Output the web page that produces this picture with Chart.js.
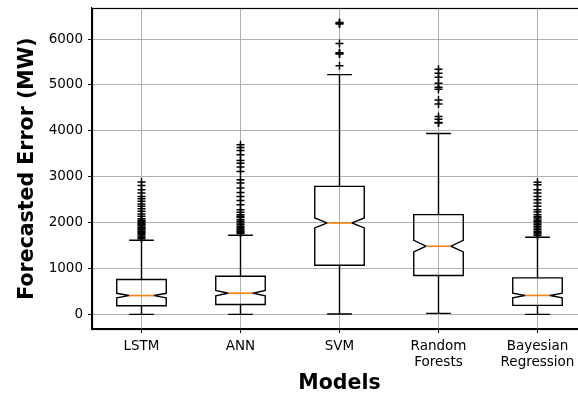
<!DOCTYPE html>
<html>
<head>
<meta charset="utf-8">
<script src="https://cdn.jsdelivr.net/npm/chart.js@4/dist/chart.umd.min.js"></script>
<style>
html,body{margin:0;padding:0;background:#fff;overflow:hidden;}
#wrap{width:578px;height:398px;overflow:hidden;position:relative;}
canvas{display:block;}
</style>
</head>
<body>
<div id="wrap"><canvas id="c" width="640" height="398"></canvas></div>
<script>
// ---- data ----
const categories = ['LSTM', 'ANN', 'SVM', 'Random Forests', 'Bayesian Regression'];
const xTickLabels = [['LSTM'], ['ANN'], ['SVM'], ['Random', 'Forests'], ['Bayesian', 'Regression']];
const q1Values      = [190, 215, 1072, 848, 196];
const medianValues  = [410, 462, 1993, 1486, 413];
const q3Values      = [760, 832, 2790, 2174, 797];
const notchLow      = [362, 406, 1884, 1363, 362];
const notchHigh     = [460, 520, 2103, 1616, 465];
const whiskerLow    = [0, 0, 8, 22, 0];
const whiskerHigh   = [1615, 1725, 5225, 3942, 1681];
const outliersLSTM = [2884, 2812, 2717, 2645, 2572, 2522, 2464, 2406, 2355, 2304, 2246, 2188, 2138, 2087, 2050, 2029, 2000, 1980, 1957, 1930, 1900, 1884, 1860, 1840, 1812, 1790, 1770, 1739, 1710, 1681, 1650];
const outliersANN = [3700, 3640, 3572, 3478, 3355, 3297, 3210, 3116, 2935, 2862, 2754, 2659, 2572, 2485, 2391, 2283, 2224, 2174, 2140, 2110, 2065, 2030, 1993, 1960, 1920, 1890, 1862, 1840, 1812, 1790, 1765];
const outliersSVM = [6360, 6345, 6330, 5906, 5700, 5688, 5675, 5420];
const outliersRF = [5341, 5254, 5167, 5036, 4949, 4906, 4674, 4587, 4312, 4254, 4181, 4170];
const outliersBR = [2880, 2826, 2717, 2645, 2572, 2500, 2428, 2355, 2283, 2230, 2174, 2130, 2101, 2060, 2029, 1990, 1957, 1920, 1884, 1850, 1812, 1780, 1750, 1720];
const yTickValues = [0, 1000, 2000, 3000, 4000, 5000, 6000];

const outlierSets = [outliersLSTM, outliersANN, outliersSVM, outliersRF, outliersBR];
const outlierPoints = [];
outlierSets.forEach((arr, i) => arr.forEach(v => outlierPoints.push({x: i + 1, y: v})));

const BOX_W = 0.5;
const FONT = '"DejaVu Sans", sans-serif';

const boxPlugin = {
  id: 'boxes',
  afterDatasetsDraw(chart) {
    const {ctx, scales: {x, y}, chartArea} = chart;
    ctx.save();
    ctx.lineWidth = 1.4;
    ctx.strokeStyle = '#000';
    ctx.lineJoin = 'miter';
    for (let i = 0; i < categories.length; i++) {
      const pos = i + 1;
      const L = x.getPixelForValue(pos - BOX_W / 2);
      const R = x.getPixelForValue(pos + BOX_W / 2);
      const mL = x.getPixelForValue(pos - BOX_W / 4);
      const mR = x.getPixelForValue(pos + BOX_W / 4);
      const cx = x.getPixelForValue(pos);
      const pq1 = y.getPixelForValue(q1Values[i]);
      const pq3 = y.getPixelForValue(q3Values[i]);
      const pm = y.getPixelForValue(medianValues[i]);
      const pnl = y.getPixelForValue(notchLow[i]);
      const pnh = y.getPixelForValue(notchHigh[i]);
      const pwl = y.getPixelForValue(whiskerLow[i]);
      const pwh = y.getPixelForValue(whiskerHigh[i]);
      ctx.beginPath();
      ctx.moveTo(L, pq1);
      ctx.lineTo(R, pq1);
      ctx.lineTo(R, pnl);
      ctx.lineTo(mR, pm);
      ctx.lineTo(R, pnh);
      ctx.lineTo(R, pq3);
      ctx.lineTo(L, pq3);
      ctx.lineTo(L, pnh);
      ctx.lineTo(mL, pm);
      ctx.lineTo(L, pnl);
      ctx.closePath();
      ctx.stroke();
      ctx.beginPath();
      ctx.moveTo(cx, pq1); ctx.lineTo(cx, pwl);
      ctx.moveTo(cx, pq3); ctx.lineTo(cx, pwh);
      ctx.moveTo(mL, pwl); ctx.lineTo(mR, pwl);
      ctx.moveTo(mL, pwh); ctx.lineTo(mR, pwh);
      ctx.stroke();
      ctx.beginPath();
      ctx.strokeStyle = '#ff7f0e';
      ctx.lineWidth = 1.6;
      ctx.moveTo(mL, pm); ctx.lineTo(mR, pm);
      ctx.stroke();
      ctx.strokeStyle = '#000';
      ctx.lineWidth = 1.4;
    }
    ctx.lineWidth = 1.2;
    ctx.strokeStyle = '#000';
    ctx.strokeRect(Math.round(chartArea.left) + 0.5, Math.round(chartArea.top) + 0.5,
                   Math.round(chartArea.right - chartArea.left), Math.round(chartArea.bottom - chartArea.top));
    ctx.restore();
  }
};

new Chart(document.getElementById('c'), {
  type: 'scatter',
  data: {
    datasets: [{
      label: 'outliers',
      data: outlierPoints,
      pointStyle: 'cross',
      pointRadius: 4,
      pointBorderWidth: 1.5,
      borderColor: '#000',
      backgroundColor: '#000'
    }]
  },
  options: {
    responsive: false,
    animation: false,
    devicePixelRatio: 1,
    layout: {padding: {left: 0, top: 8, right: 53, bottom: 0}},
    plugins: {legend: {display: false}, tooltip: {enabled: false}},
    scales: {
      x: {
        type: 'linear',
        min: 0.5, max: 5.5,
        afterBuildTicks(scale) { scale.ticks = categories.map((c, i) => ({value: i + 1})); },
        afterFit(scale) { scale.height = 69; scale.paddingLeft = 0; scale.paddingRight = 0; },
        ticks: {
          callback: (v, i) => xTickLabels[i],
          color: '#000',
          font: {family: FONT, size: 13.5, lineHeight: 1.2},
          padding: 5,
          maxRotation: 0,
          autoSkip: false
        },
        grid: {color: '#b0b0b0', lineWidth: 1, tickLength: 4, tickColor: '#000', tickWidth: 1},
        border: {display: true, color: '#000', width: 1.2},
        title: {display: true, text: 'Models', color: '#000',
                font: {family: FONT, size: 20.5, weight: 'bold', lineHeight: 1.2},
                padding: {top: 0, bottom: 2}}
      },
      y: {
        type: 'linear',
        min: -318, max: 6678,
        afterBuildTicks(scale) { scale.ticks = yTickValues.map(v => ({value: v})); },
        afterFit(scale) { scale.width = 92; scale.paddingTop = 0; scale.paddingBottom = 0; },
        ticks: {
          callback: v => String(v),
          color: '#000',
          font: {family: FONT, size: 13.5},
          padding: 5
        },
        grid: {color: '#b0b0b0', lineWidth: 1, tickLength: 4, tickColor: '#000', tickWidth: 1},
        border: {display: true, color: '#000', width: 1.2},
        title: {display: true, text: 'Forecasted Error (MW)', color: '#000',
                font: {family: FONT, size: 20.5, weight: 'bold', lineHeight: 1.2},
                padding: {top: 15, bottom: 0}}
      }
    }
  },
  plugins: [boxPlugin]
});
</script>
</body>
</html>
